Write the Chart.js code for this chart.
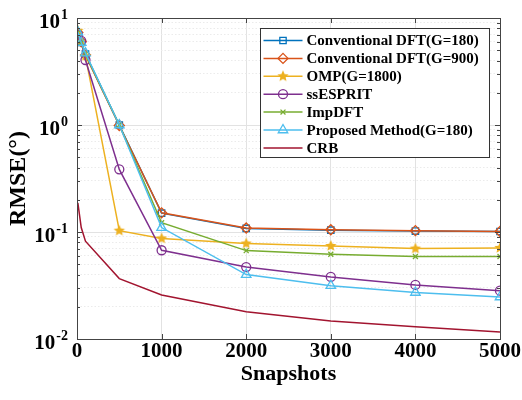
<!DOCTYPE html>
<html>
<head>
<meta charset="utf-8">
<script src="https://cdn.jsdelivr.net/npm/chart.js@4.4.1/dist/chart.umd.min.js"></script>
<style>
  html, body { margin: 0; padding: 0; background: #fff; }
  #wrap { width: 522px; height: 400px; }
</style>
</head>
<body>
<div id="wrap"><canvas id="rmse" width="522" height="400"></canvas></div>
<script>
// RMSE vs number of snapshots
const snapshots = [10, 50, 100, 500, 1000, 2000, 3000, 4000, 5000];
const dftG180   = [7.2, 5.9, 4.6, 1.00, 0.150, 0.108, 0.104, 0.102, 0.101];
const dftG900   = [7.3, 6.0, 4.5, 0.99, 0.151, 0.109, 0.105, 0.103, 0.101];
const ompG1800  = [7.6, 6.0, 4.4, 0.103, 0.087, 0.078, 0.074, 0.070, 0.071];
const ssEsprit  = [7.0, 6.1, 4.05, 0.385, 0.0675, 0.047, 0.038, 0.032, 0.0283];
const impDft    = [7.3, 5.9, 4.6, 1.00, 0.122, 0.067, 0.062, 0.059, 0.059];
const proposed  = [7.4, 5.9, 4.7, 1.00, 0.110, 0.040, 0.0315, 0.0272, 0.0247];
const crb       = [0.187, 0.11, 0.082, 0.0367, 0.0258, 0.018, 0.0147, 0.013, 0.0116];

const seriesNames = [
  'Conventional DFT(G=180)',
  'Conventional DFT(G=900)',
  'OMP(G=1800)',
  'ssESPRIT',
  'ImpDFT',
  'Proposed Method(G=180)',
  'CRB'
];
const seriesValues = [dftG180, dftG900, ompG1800, ssEsprit, impDft, proposed, crb];

const xTickValues = [0, 1000, 2000, 3000, 4000, 5000];
const yDecades = [0.01, 0.1, 1, 10];

const SERIF = "'Liberation Serif', 'Times New Roman', serif";

// filled five-point star marker
function pentagram(r, color) {
  const c = document.createElement('canvas');
  const s = Math.ceil(r * 2 + 2);
  c.width = c.height = s;
  const g = c.getContext('2d');
  g.beginPath();
  for (let i = 0; i < 10; i++) {
    const rr = i % 2 ? r * 0.45 : r;
    const a = -Math.PI / 2 + i * Math.PI / 5;
    g.lineTo(s / 2 + rr * Math.cos(a), s / 2 + rr * Math.sin(a));
  }
  g.closePath();
  g.fillStyle = color;
  g.fill();
  return c;
}

const styles = [
  { color: '#0072BD', point: 'rect', r: 4.5 },
  { color: '#D95319', point: 'rectRot', r: 5 },
  { color: '#EDB120', point: pentagram(6, '#EDB120'), r: 6 },
  { color: '#7E2F8E', point: 'circle', r: 4.5 },
  { color: '#77AC30', point: 'crossRot', r: 3.5 },
  { color: '#4DBEEE', point: 'triangle', r: 5.5 },
  { color: '#A2142F', point: false, r: 0 }
];

const datasets = seriesValues.map((vals, i) => ({
  label: seriesNames[i],
  data: vals.map((v, j) => ({ x: snapshots[j], y: v })),
  borderColor: styles[i].color,
  backgroundColor: 'rgba(0,0,0,0)',
  borderWidth: 1.5,
  pointStyle: styles[i].point,
  pointRadius: styles[i].r,
  pointBorderWidth: 1.3,
  pointBorderColor: styles[i].color,
  pointBackgroundColor: 'rgba(0,0,0,0)',
  tension: 0,
  order: -i
}));

const isDecade = v => Math.abs(Math.log10(v) - Math.round(Math.log10(v))) < 1e-9;

// y tick values: 1..9 inside each decade plus the top one
const yTickValues = [];
yDecades.slice(0, -1).forEach(d => { for (let m = 1; m <= 9; m++) yTickValues.push(+(d * m).toPrecision(3)); });
yTickValues.push(yDecades[yDecades.length - 1]);

// box, inward tick marks, power-of-ten labels
const axesBox = {
  id: 'axesBox',
  afterDraw(chart) {
    const { ctx, chartArea: a, scales: { x, y } } = chart;
    ctx.save();
    ctx.strokeStyle = '#444';
    ctx.lineWidth = 1;
    ctx.beginPath();
    x.ticks.forEach(t => {
      const px = Math.round(x.getPixelForValue(t.value)) + 0.5;
      ctx.moveTo(px, a.bottom); ctx.lineTo(px, a.bottom - 5);
      ctx.moveTo(px, a.top); ctx.lineTo(px, a.top + 5);
    });
    y.ticks.forEach(t => {
      const py = Math.round(y.getPixelForValue(t.value)) + 0.5;
      const len = isDecade(t.value) ? 5 : 3;
      ctx.moveTo(a.left, py); ctx.lineTo(a.left + len, py);
      ctx.moveTo(a.right, py); ctx.lineTo(a.right - len, py);
    });
    ctx.stroke();
    ctx.strokeRect(Math.round(a.left) + 0.5, Math.round(a.top) + 0.5,
                   Math.round(a.right - a.left), Math.round(a.bottom - a.top));

    ctx.fillStyle = '#000';
    ctx.textAlign = 'right';
    ctx.textBaseline = 'alphabetic';
    yDecades.forEach(d => {
      const py = y.getPixelForValue(d);
      const exp = String(Math.round(Math.log10(d)));
      const right = a.left - 9;
      ctx.font = 'bold 14px ' + SERIF;
      const ew = ctx.measureText(exp).width;
      ctx.fillText(exp, right, py + 1);
      ctx.font = 'bold 21px ' + SERIF;
      ctx.fillText('10', right - ew - 1, py + 9.5);
    });
    ctx.restore();
  }
};

// legend drawn inside the plot, top right
const legendBox = {
  id: 'legendBox',
  afterDraw(chart) {
    const { ctx, chartArea: a } = chart;
    const w = 229, rowH = 17.9;
    const h = Math.round(rowH * seriesNames.length + 4);
    const x0 = Math.round(a.right - 11 - w) + 0.5;
    const y0 = Math.round(a.top + 10) + 0.5;
    ctx.save();
    ctx.fillStyle = '#fff';
    ctx.fillRect(x0, y0, w, h);
    ctx.strokeStyle = '#333';
    ctx.lineWidth = 1;
    ctx.strokeRect(x0, y0, w, h);
    chart.data.datasets.forEach((ds, i) => {
      const cy = y0 + 12 + i * rowH;
      ctx.strokeStyle = ds.borderColor;
      ctx.lineWidth = 1.5;
      ctx.beginPath();
      ctx.moveTo(x0 + 3, cy); ctx.lineTo(x0 + 42, cy);
      ctx.stroke();
      if (ds.pointStyle) {
        ctx.fillStyle = 'rgba(0,0,0,0)';
        ctx.lineWidth = 1.3;
        Chart.helpers.drawPoint(ctx, {
          pointStyle: ds.pointStyle, rotation: 0,
          radius: ds.pointRadius, borderWidth: 1.3
        }, x0 + 22.5, cy);
      }
      ctx.fillStyle = '#000';
      ctx.font = 'bold 15px ' + SERIF;
      ctx.textAlign = 'left';
      ctx.textBaseline = 'middle';
      ctx.fillText(ds.label, x0 + 46, cy + 1);
    });
    ctx.restore();
  }
};

new Chart(document.getElementById('rmse'), {
  type: 'line',
  data: { datasets },
  options: {
    responsive: false,
    animation: false,
    devicePixelRatio: 1,
    layout: { padding: { left: 0, right: 22, top: 18, bottom: 0 } },
    plugins: { legend: { display: false }, tooltip: { enabled: false } },
    elements: { line: { fill: false } },
    scales: {
      x: {
        type: 'linear',
        min: 0, max: 5000,
        afterBuildTicks: s => { s.ticks = xTickValues.map(v => ({ value: v })); },
        afterFit: s => { s.height = 61; },
        ticks: {
          padding: 0,
          color: '#000',
          font: { family: SERIF, size: 21, weight: 'bold' },
          maxRotation: 0,
          autoSkip: false,
          callback: v => String(v)
        },
        grid: { color: '#e2e2e2', lineWidth: 1, drawTicks: false },
        border: { display: false },
        title: {
          display: true, text: 'Snapshots', color: '#000',
          font: { family: SERIF, size: 22, weight: 'bold' },
          padding: { top: 0, bottom: 12 }
        }
      },
      y: {
        type: 'logarithmic',
        min: 0.01, max: 10,
        afterBuildTicks: s => { s.ticks = yTickValues.map(v => ({ value: v, major: isDecade(v) })); },
        afterFit: s => { s.width = 77; },
        ticks: { display: false, autoSkip: false },
        grid: {
          drawTicks: false,
          lineWidth: 1,
          color: c => (c.tick && isDecade(c.tick.value)) ? '#e2e2e2' : '#ebebeb'
        },
        border: {
          display: false,
          dash: c => (c.tick && !isDecade(c.tick.value)) ? [1.5, 2] : []
        },
        title: {
          display: true, text: 'RMSE(°)', color: '#000',
          font: { family: SERIF, size: 24, weight: 'bold' },
          padding: { top: 4, bottom: 0 }
        }
      }
    }
  },
  plugins: [axesBox, legendBox]
});
</script>
</body>
</html>
